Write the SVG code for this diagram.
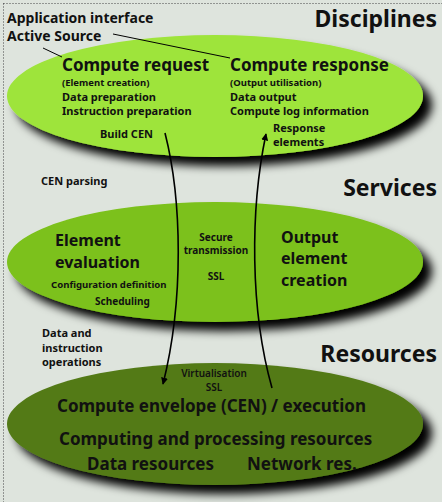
<svg xmlns="http://www.w3.org/2000/svg" width="442" height="502" viewBox="0 0 442 502">
<defs>
<filter id="sh" x="-10%" y="-20%" width="130%" height="160%">
<feGaussianBlur in="SourceAlpha" stdDeviation="5"/>
<feOffset dx="9" dy="9" result="b"/>
<feMerge><feMergeNode in="b"/><feMergeNode in="SourceGraphic"/></feMerge>
</filter>
<marker id="ah" viewBox="0 0 10 10" refX="9" refY="5" markerWidth="7" markerHeight="7" orient="auto" markerUnits="userSpaceOnUse">
<path d="M0,0 L10,5 L0,10 z" fill="#000"/>
</marker>
<style>
text{font-family:"Noto Sans","Open Sans","DejaVu Sans",sans-serif;font-weight:bold;fill:#111}
.h{font-size:23px;text-anchor:end}
.t{font-size:17px}
.s{font-size:10px}
.m{font-size:11px}
.c{text-anchor:middle}
.r{font-size:16px}
.b{font-size:17px}
.ln{stroke:#000;stroke-width:1;fill:none}
.ar{stroke:#000;stroke-width:1.6;fill:none;marker-end:url(#ah)}
</style>
</defs>
<rect x="0" y="0" width="442" height="502" fill="#dee4dd"/>
<rect x="3.5" y="3.5" width="460" height="520" fill="none" stroke="#444" stroke-width="1" stroke-dasharray="1,2"/>

<g id="disciplines">
<ellipse cx="215" cy="96" rx="208" ry="61" fill="#9ee43a" filter="url(#sh)"/>
<text class="h" x="437" y="27">Disciplines</text>
<text x="7" y="23" style="font-size:14px">Application interface</text>
<text x="7" y="41" style="font-size:14px">Active Source</text>
<text class="t" x="62" y="71">Compute request</text>
<text class="s" x="62" y="86" style="font-size:9.5px">(Element creation)</text>
<text class="m" x="62" y="101">Data preparation</text>
<text class="m" x="62" y="115">Instruction preparation</text>
<text class="t" x="230" y="71">Compute response</text>
<text class="s" x="230" y="86" style="font-size:9.5px">(Output utilisation)</text>
<text class="m" x="230" y="101">Data output</text>
<text class="m" x="230" y="115">Compute log information</text>
<text class="m" x="100" y="138">Build CEN</text>
<text class="m" x="273" y="132">Response</text>
<text class="m" x="273" y="146">elements</text>
</g>

<g id="services">
<ellipse cx="215" cy="262" rx="208" ry="60" fill="#7bc11a" filter="url(#sh)"/>
<text class="h" x="437" y="196">Services</text>
<text class="m" x="41" y="185">CEN parsing</text>
<text class="r" x="55" y="246">Element</text>
<text class="r" x="55" y="268">evaluation</text>
<text class="s" x="51" y="288" style="font-size:9.6px">Configuration definition</text>
<text class="s" x="95" y="305">Scheduling</text>
<text class="s c" x="216" y="241">Secure</text>
<text class="s c" x="216" y="254">transmission</text>
<text class="s c" x="216" y="280">SSL</text>
<text class="r" x="281" y="243">Output</text>
<text class="r" x="281" y="264">element</text>
<text class="r" x="281" y="286">creation</text>
</g>

<g id="resources">
<ellipse cx="215" cy="424" rx="208" ry="61" fill="#537a19" filter="url(#sh)"/>
<text class="h" x="437" y="362">Resources</text>
<text class="m" x="42" y="337">Data and</text>
<text class="m" x="42" y="352">instruction</text>
<text class="m" x="42" y="366">operations</text>
<text class="s c" x="214" y="377" style="font-weight:600">Virtualisation</text>
<text class="s c" x="214" y="391" style="font-weight:600">SSL</text>
<text class="b" x="57" y="412">Compute envelope (CEN) / execution</text>
<text class="b" x="59" y="445">Computing and processing resources</text>
<text class="b" x="87" y="470">Data resources</text>
<text class="b" x="247" y="470">Network res.</text>
</g>

<g id="connectors">
<path class="ln" d="M43,48 L62,57"/>
<path class="ln" d="M113,34 L230,58"/>
<path class="ar" d="M165,133 C182,200 184,300 163,384"/>
<path class="ar" d="M272,388 C250,310 250,210 266,134"/>
</g>
</svg>
